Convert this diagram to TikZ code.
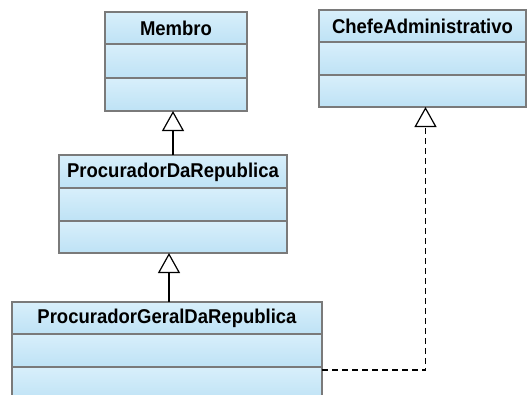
\documentclass[tikz,border=0pt]{standalone}
\usepackage{fontspec}
\setmainfont{Liberation Sans}
\usetikzlibrary{arrows.meta}

\definecolor{boxtop}{RGB}{216,239,251}
\definecolor{boxbot}{RGB}{190,226,245}
\definecolor{boxline}{RGB}{122,122,122}

\tikzset{
  classbox/.style={draw=boxline, line width=2pt, rectangle, inner sep=0pt, outer sep=0pt},
  classname/.style={font=\bfseries\fontsize{18.5}{20}\selectfont, inner sep=0pt},
  compfill/.style={top color=boxtop, bottom color=boxbot},
  inherit/.style={draw=black, line width=1.2pt,
    -{Triangle[open, width=22pt, length=20pt, fill=white]}},
  realize/.style={inherit, dash pattern=on 6pt off 4pt},
}

% \umlclass{name}{left}{top}{right}{divider1}{divider2}{bottom}{title}
\newcommand{\umlclass}[8]{%
  \shade[compfill] (#2,#3) rectangle (#4,#5);
  \shade[compfill] (#2,#5) rectangle (#4,#6);
  \shade[compfill] (#2,#6) rectangle (#4,#7);
  \draw[boxline, line width=2pt] (#2,#5) -- (#4,#5) (#2,#6) -- (#4,#6);
  \node[classbox, minimum width={(#4-#2)*1pt}, minimum height={(#7-#3)*1pt}]
    (#1) at ({(#2+#4)/2},{(#3+#7)/2}) {};
  \node[classname] (#1-title) at ({(#2+#4)/2},{(#3+#5)/2+0.5}) {\scalebox{1}[1.08]{#8}};
}

\begin{document}
\begin{tikzpicture}[x=1pt, y=-1pt]
  \useasboundingbox (0,0) rectangle (528,394);
  \clip (0,0) rectangle (528,394);
  \fill[white] (0,0) rectangle (528,394);

  \umlclass{membro}{105}{12}{247}{44}{78}{111}{Membro}
  \umlclass{chefe}{319}{10}{526}{42}{75}{107}{ChefeAdministrativo}
  \umlclass{pdr}{59}{155}{287}{188}{221}{253}{ProcuradorDaRepublica}
  \umlclass{pgr}{12}{302}{322}{334}{367}{402}{ProcuradorGeralDaRepublica}

  % generalisations
  \draw[inherit] (pdr.north) -- (pdr.north |- membro.south);
  \draw[inherit] ([xshift=2pt]pgr.north) -- ([xshift=2pt]pgr.north |- pdr.south);
  % realisation
  \draw[realize] ([yshift=-68pt]pgr.north east) -| ([xshift=3pt]chefe.south);
\end{tikzpicture}
\end{document}
